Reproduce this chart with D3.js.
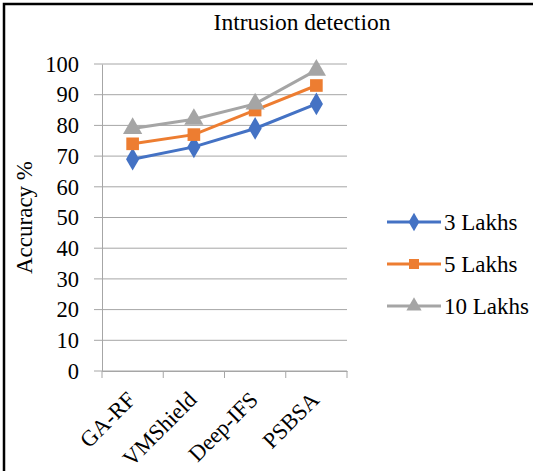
<!DOCTYPE html>
<html>
<head>
<meta charset="utf-8">
<script src="https://cdn.jsdelivr.net/npm/d3@7"></script>
<style>
  body { margin: 0; background: #fff; }
  svg { display: block; }
  text { font-family: "Liberation Serif", "Times New Roman", serif; fill: #000; }
</style>
</head>
<body>
<div id="chart"></div>
<script>
// chart data
var categories = ["GA-RF", "VMShield", "Deep-IFS", "PSBSA"];
var seriesNames = ["3 Lakhs", "5 Lakhs", "10 Lakhs"];
var lakhs3 = [69, 73, 79, 87];
var lakhs5 = [74, 77, 85, 93];
var lakhs10 = [79, 82, 87, 98];
var yTicks = [0, 10, 20, 30, 40, 50, 60, 70, 80, 90, 100];

var colors = ["#4472C4", "#ED7D31", "#A5A5A5"];
var shapes = [d3.symbolDiamond, d3.symbolSquare, d3.symbolTriangle];

var width = 533, height = 471;
var plot = {left: 102, right: 347, top: 64, bottom: 371};
var fontFam = '"Liberation Serif", "Times New Roman", serif';

var svg = d3.select('#chart').append('svg').attr('width', width).attr('height', height);

// frame (image cropped on right and bottom)
svg.append('path')
  .attr('d', `M4,${height} L4,4 L${width},4`)
  .attr('fill', 'none').attr('stroke', '#000').attr('stroke-width', 2.5);

var x = d3.scaleBand().domain(categories).range([plot.left, plot.right]);
var y = d3.scaleLinear().domain([0, 100]).range([plot.bottom, plot.top]);

// gridlines
svg.append('g').selectAll('line').data(yTicks).enter()
  .append('line')
  .attr('x1', plot.left - 8).attr('x2', plot.right)
  .attr('y1', d => y(d)).attr('y2', d => y(d))
  .attr('stroke', '#a6a6a6').attr('stroke-width', 1);

// y axis
var yAxis = svg.append('g').attr('transform', `translate(${plot.left},0)`)
  .call(d3.axisLeft(y).tickValues(yTicks).tickSize(0).tickPadding(23));
yAxis.select('.domain').attr('stroke', '#a6a6a6');
yAxis.selectAll('text').attr('fill', '#000')
  .style('font-family', fontFam).style('font-size', '22.5px');

// x axis
var xAxis = svg.append('g').attr('transform', `translate(0,${plot.bottom})`)
  .call(d3.axisBottom(x).tickSize(0).tickFormat(''));
xAxis.select('.domain').attr('stroke', '#a6a6a6');
var edges = categories.map(d => x(d)).concat([plot.right]);
xAxis.selectAll('.edge').data(edges).enter().append('line')
  .attr('x1', d => d).attr('x2', d => d).attr('y1', 0).attr('y2', 7)
  .attr('stroke', '#a6a6a6');

// rotated category labels
svg.append('g').selectAll('text').data(categories).enter()
  .append('text')
  .attr('transform', d => `translate(${x(d) + x.bandwidth() / 2 - 7},${plot.bottom + 19}) rotate(-45)`)
  .attr('text-anchor', 'end')
  .attr('dy', '0.7em')
  .style('font-family', fontFam)
  .style('font-size', '22.5px')
  .text(d => d);

// axis title
svg.append('text')
  .attr('transform', `translate(32,${(plot.top + plot.bottom) / 2}) rotate(-90)`)
  .attr('text-anchor', 'middle')
  .style('font-family', fontFam)
  .style('font-size', '23px')
  .text('Accuracy %');

// chart title
svg.append('text')
  .attr('x', 302).attr('y', 30)
  .attr('text-anchor', 'middle')
  .style('font-family', fontFam)
  .style('font-size', '23.5px')
  .text('Intrusion detection');

// series
var series = [lakhs3, lakhs5, lakhs10];
var line = d3.line().x((d, i) => x(categories[i]) + x.bandwidth() / 2).y(d => y(d));

series.forEach(function(vals, s) {
  svg.append('path').datum(vals)
    .attr('d', line)
    .attr('fill', 'none')
    .attr('stroke', colors[s])
    .attr('stroke-width', 3);
  svg.append('g').selectAll('path').data(vals).enter()
    .append('path')
    .attr('d', d3.symbol().type(shapes[s]).size(s === 0 ? 150 : 160))
    .attr('transform', (d, i) => `translate(${x(categories[i]) + x.bandwidth() / 2},${y(d)})`)
    .attr('fill', colors[s]);
});

// legend
var legend = svg.append('g').selectAll('g').data(seriesNames).enter()
  .append('g')
  .attr('transform', (d, i) => `translate(387,${222 + i * 42})`);
legend.append('line')
  .attr('x1', 0).attr('x2', 54).attr('y1', 0).attr('y2', 0)
  .attr('stroke', (d, i) => colors[i]).attr('stroke-width', 3);
legend.append('path')
  .attr('d', (d, i) => d3.symbol().type(shapes[i]).size(100)())
  .attr('transform', 'translate(27,0)')
  .attr('fill', (d, i) => colors[i]);
legend.append('text')
  .attr('x', 57).attr('y', 0).attr('dy', '0.35em')
  .style('font-family', fontFam)
  .style('font-size', '23px')
  .text(d => d);
</script>
</body>
</html>
